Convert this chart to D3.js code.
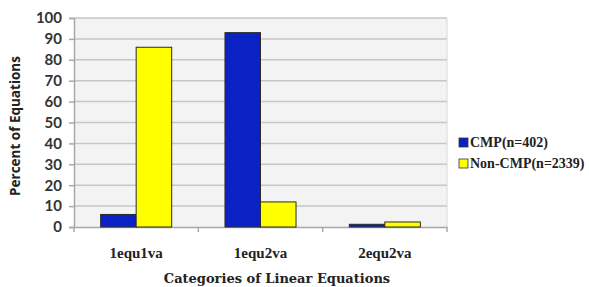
<!DOCTYPE html>
<html><head><meta charset="utf-8">
<script src="https://cdn.jsdelivr.net/npm/d3@7/dist/d3.min.js"></script>
<style>body{margin:0;background:#fff;} svg{display:block;}</style>
</head><body>
<script>
const categories = ["1equ1va", "1equ2va", "2equ2va"];
const seriesNames = ["CMP(n=402)", "Non-CMP(n=2339)"];
const cmpValues = [6, 93, 1.3];
const nonCmpValues = [86, 12, 2.4];
const yTicks = [0, 10, 20, 30, 40, 50, 60, 70, 80, 90, 100];
const colors = ["#0a22c4", "#ffff00"];

const W = 589, H = 287;
const svg = d3.select("body").append("svg").attr("width", W).attr("height", H);
const plot = {left: 74, right: 447, top: 18, bottom: 227};

const x = d3.scaleBand().domain(categories).range([plot.left, plot.right]).paddingInner(0).paddingOuter(0);
const xs = d3.scaleBand().domain([0, 1]).range([0, x.bandwidth()]).paddingInner(0).paddingOuter(0.75);
const y = d3.scaleLinear().domain([0, 100]).range([plot.bottom, plot.top]);

svg.append("rect").attr("x", plot.left).attr("y", plot.top)
  .attr("width", plot.right - plot.left).attr("height", plot.bottom - plot.top)
  .attr("fill", "#f3f3f3");

// gridlines
svg.append("g").selectAll("line").data(yTicks.filter(d => d > 0)).join("line")
  .attr("x1", plot.left).attr("x2", plot.right)
  .attr("y1", d => y(d)).attr("y2", d => y(d))
  .attr("stroke", "#c6c6c6").attr("stroke-width", 1.5);
svg.append("line").attr("x1", plot.right).attr("x2", plot.right)
  .attr("y1", plot.top).attr("y2", plot.bottom).attr("stroke", "#d8d8d8").attr("stroke-width", 1);

// y axis
const yAxis = svg.append("g").attr("transform", `translate(${plot.left},0)`)
  .call(d3.axisLeft(y).tickValues(yTicks).tickSize(5).tickPadding(7));
yAxis.select(".domain").attr("stroke", "#a8a8a8").attr("stroke-width", 1.5);
yAxis.selectAll(".tick line").attr("stroke", "#a8a8a8").attr("stroke-width", 1.5);
yAxis.selectAll("text").attr("font-family", "Lato, sans-serif").attr("font-size", 15)
  .attr("fill", "#333").attr("font-weight", "bold");

// x axis
const xAxis = svg.append("g").attr("transform", `translate(0,${plot.bottom})`)
  .call(d3.axisBottom(x).tickSize(0).tickPadding(0));
xAxis.select(".domain").attr("stroke", "#a8a8a8").attr("stroke-width", 1.5);
xAxis.selectAll(".tick text").attr("font-family", "'Liberation Serif', serif").attr("font-size", 15)
  .attr("font-weight", "bold").attr("fill", "#222").attr("dy", 0).attr("y", 31);
// category boundary ticks
svg.append("g").selectAll("line").data(categories.map(c => x(c)).concat([plot.right])).join("line")
  .attr("x1", d => d).attr("x2", d => d).attr("y1", plot.bottom).attr("y2", plot.bottom + 5)
  .attr("stroke", "#a8a8a8").attr("stroke-width", 1.5);

// bars
const series = [cmpValues, nonCmpValues];
series.forEach((vals, si) => {
  svg.append("g").selectAll("rect").data(categories).join("rect")
    .attr("x", (c) => x(c) + xs(si))
    .attr("width", xs.bandwidth())
    .attr("y", (c, i) => y(vals[i]))
    .attr("height", (c, i) => y(0) - y(vals[i]))
    .attr("fill", colors[si])
    .attr("stroke", "#2a2a2a").attr("stroke-width", 1);
});

// axis titles
svg.append("text").attr("transform", `translate(20,126) rotate(-90)`)
  .attr("text-anchor", "middle").attr("font-family", "'Open Sans', sans-serif")
  .attr("font-weight", "bold").attr("font-size", 13.5).attr("fill", "#222")
  .text("Percent of Equations");
svg.append("text").attr("x", 277).attr("y", 283)
  .attr("text-anchor", "middle").attr("font-family", "'DejaVu Serif', serif")
  .attr("font-weight", "bold").attr("font-size", 13).attr("fill", "#222")
  .text("Categories of  Linear Equations");

// legend
const lg = svg.append("g");
seriesNames.forEach((n, i) => {
  const ly = 142 + i * 21;
  lg.append("rect").attr("x", 459).attr("y", ly - 4).attr("width", 9).attr("height", 9)
    .attr("fill", colors[i]).attr("stroke", "#333").attr("stroke-width", 0.8);
  lg.append("text").attr("x", 470).attr("y", ly + 5)
    .attr("font-family", "'Liberation Serif', serif").attr("font-size", 14).attr("font-weight", "bold")
    .attr("fill", "#222").text(n);
});
</script>
</body></html>
